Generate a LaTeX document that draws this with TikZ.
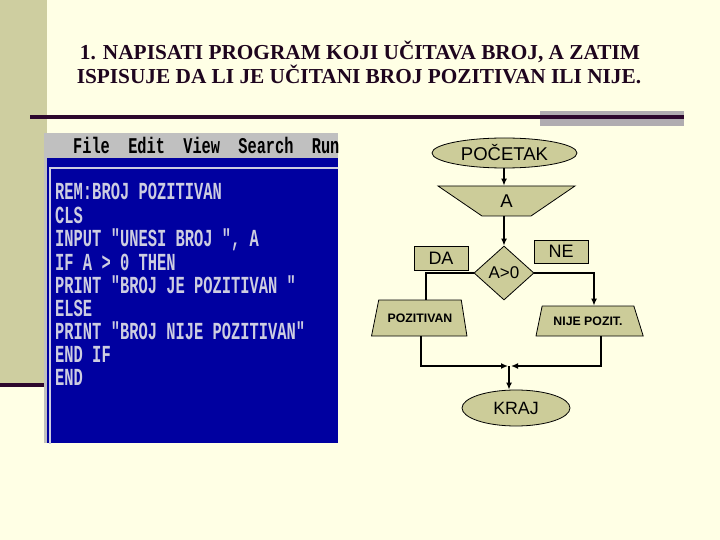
\documentclass[tikz,border=0pt]{standalone}
\usepackage{fontspec}
\setmainfont{Liberation Sans}
\newfontfamily\titlefont{Liberation Serif}
\newfontfamily\codefont[FakeStretch=0.63]{Liberation Mono}
\newfontfamily\menufont[FakeStretch=0.68]{Liberation Mono}
\usetikzlibrary{shapes.geometric,arrows.meta,calc}
\definecolor{bgc}{RGB}{255,255,229}
\definecolor{khaki}{RGB}{204,204,153}
\definecolor{barc}{RGB}{206,206,160}
\definecolor{darkline}{RGB}{45,8,45}
\definecolor{grayband}{RGB}{176,172,176}
\definecolor{scrgray}{RGB}{192,192,192}
\definecolor{navy}{RGB}{0,0,160}
\definecolor{codec}{RGB}{205,205,225}
\definecolor{titlec}{RGB}{30,5,30}
\tikzset{
  shapebox/.style={draw=black, line width=0.8pt, fill=khaki, inner sep=0pt, text=black},
  term/.style={shapebox, ellipse},
  io/.style={shapebox, trapezium, trapezium stretches=true},
  labelbox/.style={shapebox, rectangle, minimum width=54pt, minimum height=24pt, font=\fontsize{18}{18}\selectfont},
  conn/.style={line width=1.8pt, black},
  arr/.style={conn, -{Latex[length=7pt,width=6pt]}},
  codeline/.style={anchor=base west, inner sep=0pt, text=codec, font=\codefont\bfseries\fontsize{24.5}{24.5}\selectfont},
}
\begin{document}
\begin{tikzpicture}[x=1pt,y=-1pt]
\useasboundingbox (0,0) rectangle (720,540);
\fill[bgc] (0,0) rectangle (720,540);
\fill[barc] (0,0) rectangle (47,384);
\fill[darkline] (0,383) rectangle (44,387);
\fill[grayband] (540,111) rectangle (684,126);
\fill[darkline] (30,115) rectangle (684,119);
% title
\node[anchor=base, inner sep=0pt, text=titlec, font=\titlefont\bfseries\fontsize{21.3}{24}\selectfont] (t1) at (360,60) {1. NAPISATI PROGRAM KOJI UČITAVA BROJ, A ZATIM};
\node[anchor=base, inner sep=0pt, text=titlec, font=\titlefont\bfseries\fontsize{21.3}{24}\selectfont] (t2) at (359,84) {ISPISUJE DA LI JE UČITANI BROJ POZITIVAN ILI NIJE.};
% screenshot
\begin{scope}
\clip (44,133) rectangle (338,443);
\fill[scrgray] (44,133) rectangle (338,443);
\fill[navy] (47,158) rectangle (338,443);
\draw[codec, line width=2pt] (50,450) -- (50,168) -- (345,168);
\node[anchor=base west, inner sep=0pt, text=black, font=\menufont\bfseries\fontsize{22.5}{22.5}\selectfont] (menu) at (73,154) {File~~Edit~~View~~Search~~Run};
\node[codeline] (c1) at (55,200) {REM:BROJ POZITIVAN};
\node[codeline] (c2) at (55,223) {CLS};
\node[codeline] (c3) at (55,246) {INPUT "UNESI BROJ ", A};
\node[codeline] (c4) at (55,270) {IF A > 0 THEN};
\node[codeline] (c5) at (55,293) {PRINT "BROJ JE POZITIVAN "};
\node[codeline] (c6) at (55,316) {ELSE};
\node[codeline] (c7) at (55,339) {PRINT "BROJ NIJE POZITIVAN"};
\node[codeline] (c8) at (55,362) {END IF};
\node[codeline] (c9) at (55,385) {END};
\end{scope}
% flowchart
\node[term, minimum width=145pt, minimum height=30pt, font=\fontsize{18.5}{18.5}\selectfont] (start) at (504.5,153) {POČETAK};
\node[io, shape border rotate=180, trapezium left angle=49, trapezium right angle=49, minimum width=137pt, minimum height=30pt, font=\fontsize{18.5}{18.5}\selectfont] (inp) at (506.5,201) {A};
\node[shapebox, diamond, minimum width=60pt, minimum height=54pt, font=\fontsize{17}{17}\selectfont] (cond) at (504,273) {A>0};
\node[labelbox] (da) at (441,258) {DA};
\node[labelbox, minimum height=23pt] (ne) at (561,251.5) {NE};
\node[io, trapezium left angle=57, trapezium right angle=63, minimum width=96pt, minimum height=36pt, font=\bfseries\fontsize{12.3}{12.3}\selectfont] (pos) at (420,318) {POZITIVAN};
\node[io, trapezium left angle=62, trapezium right angle=51, minimum width=108pt, minimum height=30pt, font=\bfseries\fontsize{12.3}{12.3}\selectfont] (neg) at (588,321) {NIJE POZIT.};
\node[term, minimum width=108pt, minimum height=36pt, font=\fontsize{17.8}{17.8}\selectfont] (end) at (516,408) {KRAJ};
\coordinate (j) at (509,366);
\draw[arr] (start.south -| 504,0) -- (504,0 |- inp.north);
\draw[arr] (inp.south -| 504,0) -- (cond.north);
\draw[conn] (cond.west) -| ([xshift=6pt]pos.north);
\draw[arr] (cond.east) -| ([xshift=6pt]neg.north);
\draw[arr] ([xshift=1pt]pos.south) |- ([xshift=-1pt]j);
\draw[arr] ([xshift=13pt]neg.south) |- ([xshift=2pt]j);
\draw[arr] (j) -- (j |- end.north);
\end{tikzpicture}
\end{document}
